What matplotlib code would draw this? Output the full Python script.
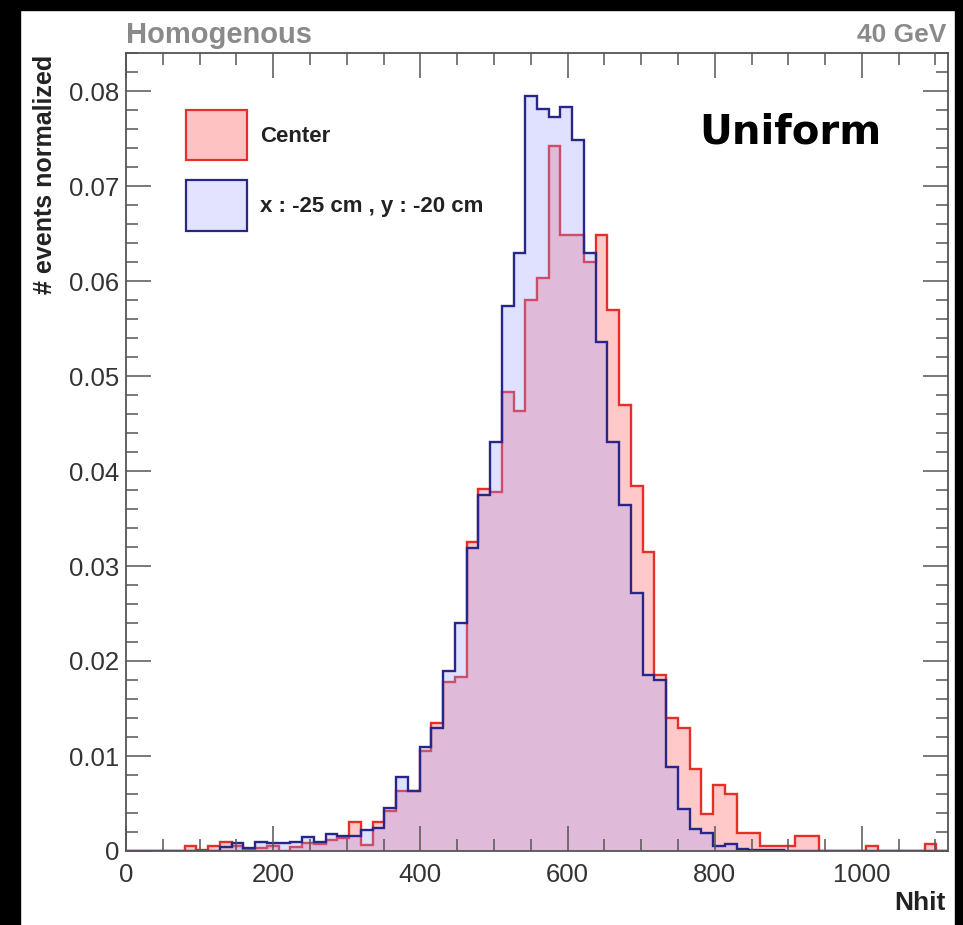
import numpy as np
import matplotlib
matplotlib.use("Agg")
import matplotlib.pyplot as plt
from matplotlib.patches import Rectangle
from matplotlib.ticker import MultipleLocator

# --------------------------
# DATA (70 bins, Nhit 0 - 1117)
# --------------------------
x_min = 0
x_max = 1117
n_bins = 70

center = [
    0, 0, 0, 0, 0,
    0.0005, 0.0001, 0.0005, 0.0009, 0.0005,
    0.0002, 0.0003, 0.0005, 0.0, 0.0004,
    0.0008, 0.0007, 0.0012, 0.0014, 0.0031,
    0.0006, 0.0031, 0.0042, 0.0063, 0.0063,
    0.0105, 0.0135, 0.0178, 0.0183, 0.0325,
    0.0381, 0.0378, 0.0483, 0.0463, 0.0580,
    0.0603, 0.0742, 0.0648, 0.0648, 0.0620,
    0.0648, 0.0569, 0.0469, 0.0384, 0.0315,
    0.0185, 0.0140, 0.0129, 0.0086, 0.0039,
    0.0070, 0.0060, 0.0019, 0.0019, 0.0005,
    0.0005, 0.0005, 0.0016, 0.0016, 0.0,
    0, 0, 0, 0.0005, 0,
    0, 0, 0, 0.0007, 0,
]

offcenter = [
    0, 0, 0, 0, 0,
    0, 0, 0, 0.0004, 0.0008,
    0.0003, 0.0010, 0.0008, 0.0008, 0.0010,
    0.0015, 0.0010, 0.0018, 0.0016, 0.0016,
    0.0022, 0.0024, 0.0045, 0.0078, 0.0063,
    0.0109, 0.0130, 0.0190, 0.0240, 0.0319,
    0.0375, 0.0431, 0.0574, 0.0629, 0.0795,
    0.0781, 0.0773, 0.0783, 0.0748, 0.0629,
    0.0536, 0.0431, 0.0364, 0.0272, 0.0185,
    0.0180, 0.0088, 0.0044, 0.0023, 0.0019,
    0.0005, 0.0007, 0.0002, 0.0001, 0.0001,
    0.0001, 0, 0, 0, 0,
    0, 0, 0, 0, 0,
    0, 0, 0, 0, 0,
]

labels = ["Center", "x : -25 cm , y : -20 cm"]

# --------------------------
# FIGURE
# --------------------------
W, H = 963, 925
fig = plt.figure(figsize=(W / 100, H / 100), dpi=100)
fig.patch.set_facecolor("white")

ax_l, ax_r, ax_t, ax_b = 126, 948, 53, 851
ax = fig.add_axes([ax_l / W, (H - ax_b) / H, (ax_r - ax_l) / W, (ax_b - ax_t) / H])

edges = np.linspace(x_min, x_max, n_bins + 1)

red_line = "#e3302b"
red_fill = (1.0, 0.58, 0.58, 0.5)
blue_line = "#27278a"
blue_fill = (0.6, 0.6, 1.0, 0.30)

ax.stairs(center, edges, fill=True, color=red_fill, linewidth=0)
ax.stairs(center, edges, color=red_line, linewidth=1.7)
ax.stairs(offcenter, edges, fill=True, color=blue_fill, linewidth=0)
ax.stairs(offcenter, edges, color=blue_line, linewidth=1.7)

ax.set_xlim(x_min, x_max)
ax.set_ylim(0, 0.084)

font = ["Liberation Sans", "DejaVu Sans"]

ax.xaxis.set_major_locator(MultipleLocator(200))
ax.xaxis.set_minor_locator(MultipleLocator(50))
ax.yaxis.set_major_locator(MultipleLocator(0.01))
ax.yaxis.set_minor_locator(MultipleLocator(0.002))
ax.yaxis.set_major_formatter(plt.FuncFormatter(lambda v, p: "0" if v == 0 else f"{v:.2f}"))

ax.tick_params(which="both", direction="in", top=True, right=True, color="#555555", width=1.1)
ax.tick_params(which="major", length=18)
ax.tick_params(which="minor", length=8.5)
ax.tick_params(axis="x", pad=9)
ax.tick_params(axis="y", pad=5)
for lab in ax.get_xticklabels() + ax.get_yticklabels():
    lab.set_family(font)
    lab.set_fontsize(18.5)
    lab.set_color("#333333")

for sp in ax.spines.values():
    sp.set_color("#555555")
    sp.set_linewidth(1.3)

# legend (drawn by hand, ROOT style)
ax.add_patch(Rectangle((0.073, 0.866), 0.074, 0.063, transform=ax.transAxes,
                       facecolor=(1.0, 0.76, 0.76), edgecolor=red_line, linewidth=1.6))
ax.add_patch(Rectangle((0.073, 0.777), 0.074, 0.064, transform=ax.transAxes,
                       facecolor=(0.89, 0.89, 1.0), edgecolor=blue_line, linewidth=1.6))
ax.text(0.163, 0.895, labels[0], transform=ax.transAxes, family=font, fontweight="bold",
        fontsize=16, color="#222222", va="center", ha="left")
ax.text(0.163, 0.808, labels[1], transform=ax.transAxes, family=font, fontweight="bold",
        fontsize=16, color="#222222", va="center", ha="left")

ax.text(0.808, 0.900, "Uniform", transform=ax.transAxes, family=["DejaVu Sans"],
        fontweight="bold", fontsize=29, color="black", va="center", ha="center")

# titles / axis labels
fig.text(ax_l / W, (H - 35) / H, "Homogenous", family=font, fontweight="bold",
         fontsize=21, color="#8a8a8a", ha="left", va="center")
fig.text(946 / W, (H - 35) / H, "40 GeV", family=font, fontweight="bold",
         fontsize=19, color="#8a8a8a", ha="right", va="center")
fig.text(946 / W, (H - 903) / H, "Nhit", family=font, fontweight="bold",
         fontsize=19, color="#222222", ha="right", va="center")
fig.text(45 / W, (H - 55) / H, "# events normalized", family=font, fontweight="bold",
         fontsize=18, color="#222222", ha="center", va="top", rotation=90)

# black borders of the screenshot
fig.patches.append(Rectangle((0, 0), 20 / W, 1, transform=fig.transFigure, color="black", zorder=0))
fig.patches.append(Rectangle((0, 1 - 10 / H), 1, 10 / H, transform=fig.transFigure, color="black", zorder=0))
fig.patches.append(Rectangle((1 - 8 / W, 0), 8 / W, 1, transform=fig.transFigure, color="black", zorder=0))

fig.savefig("out.png", dpi=100, facecolor="white")
